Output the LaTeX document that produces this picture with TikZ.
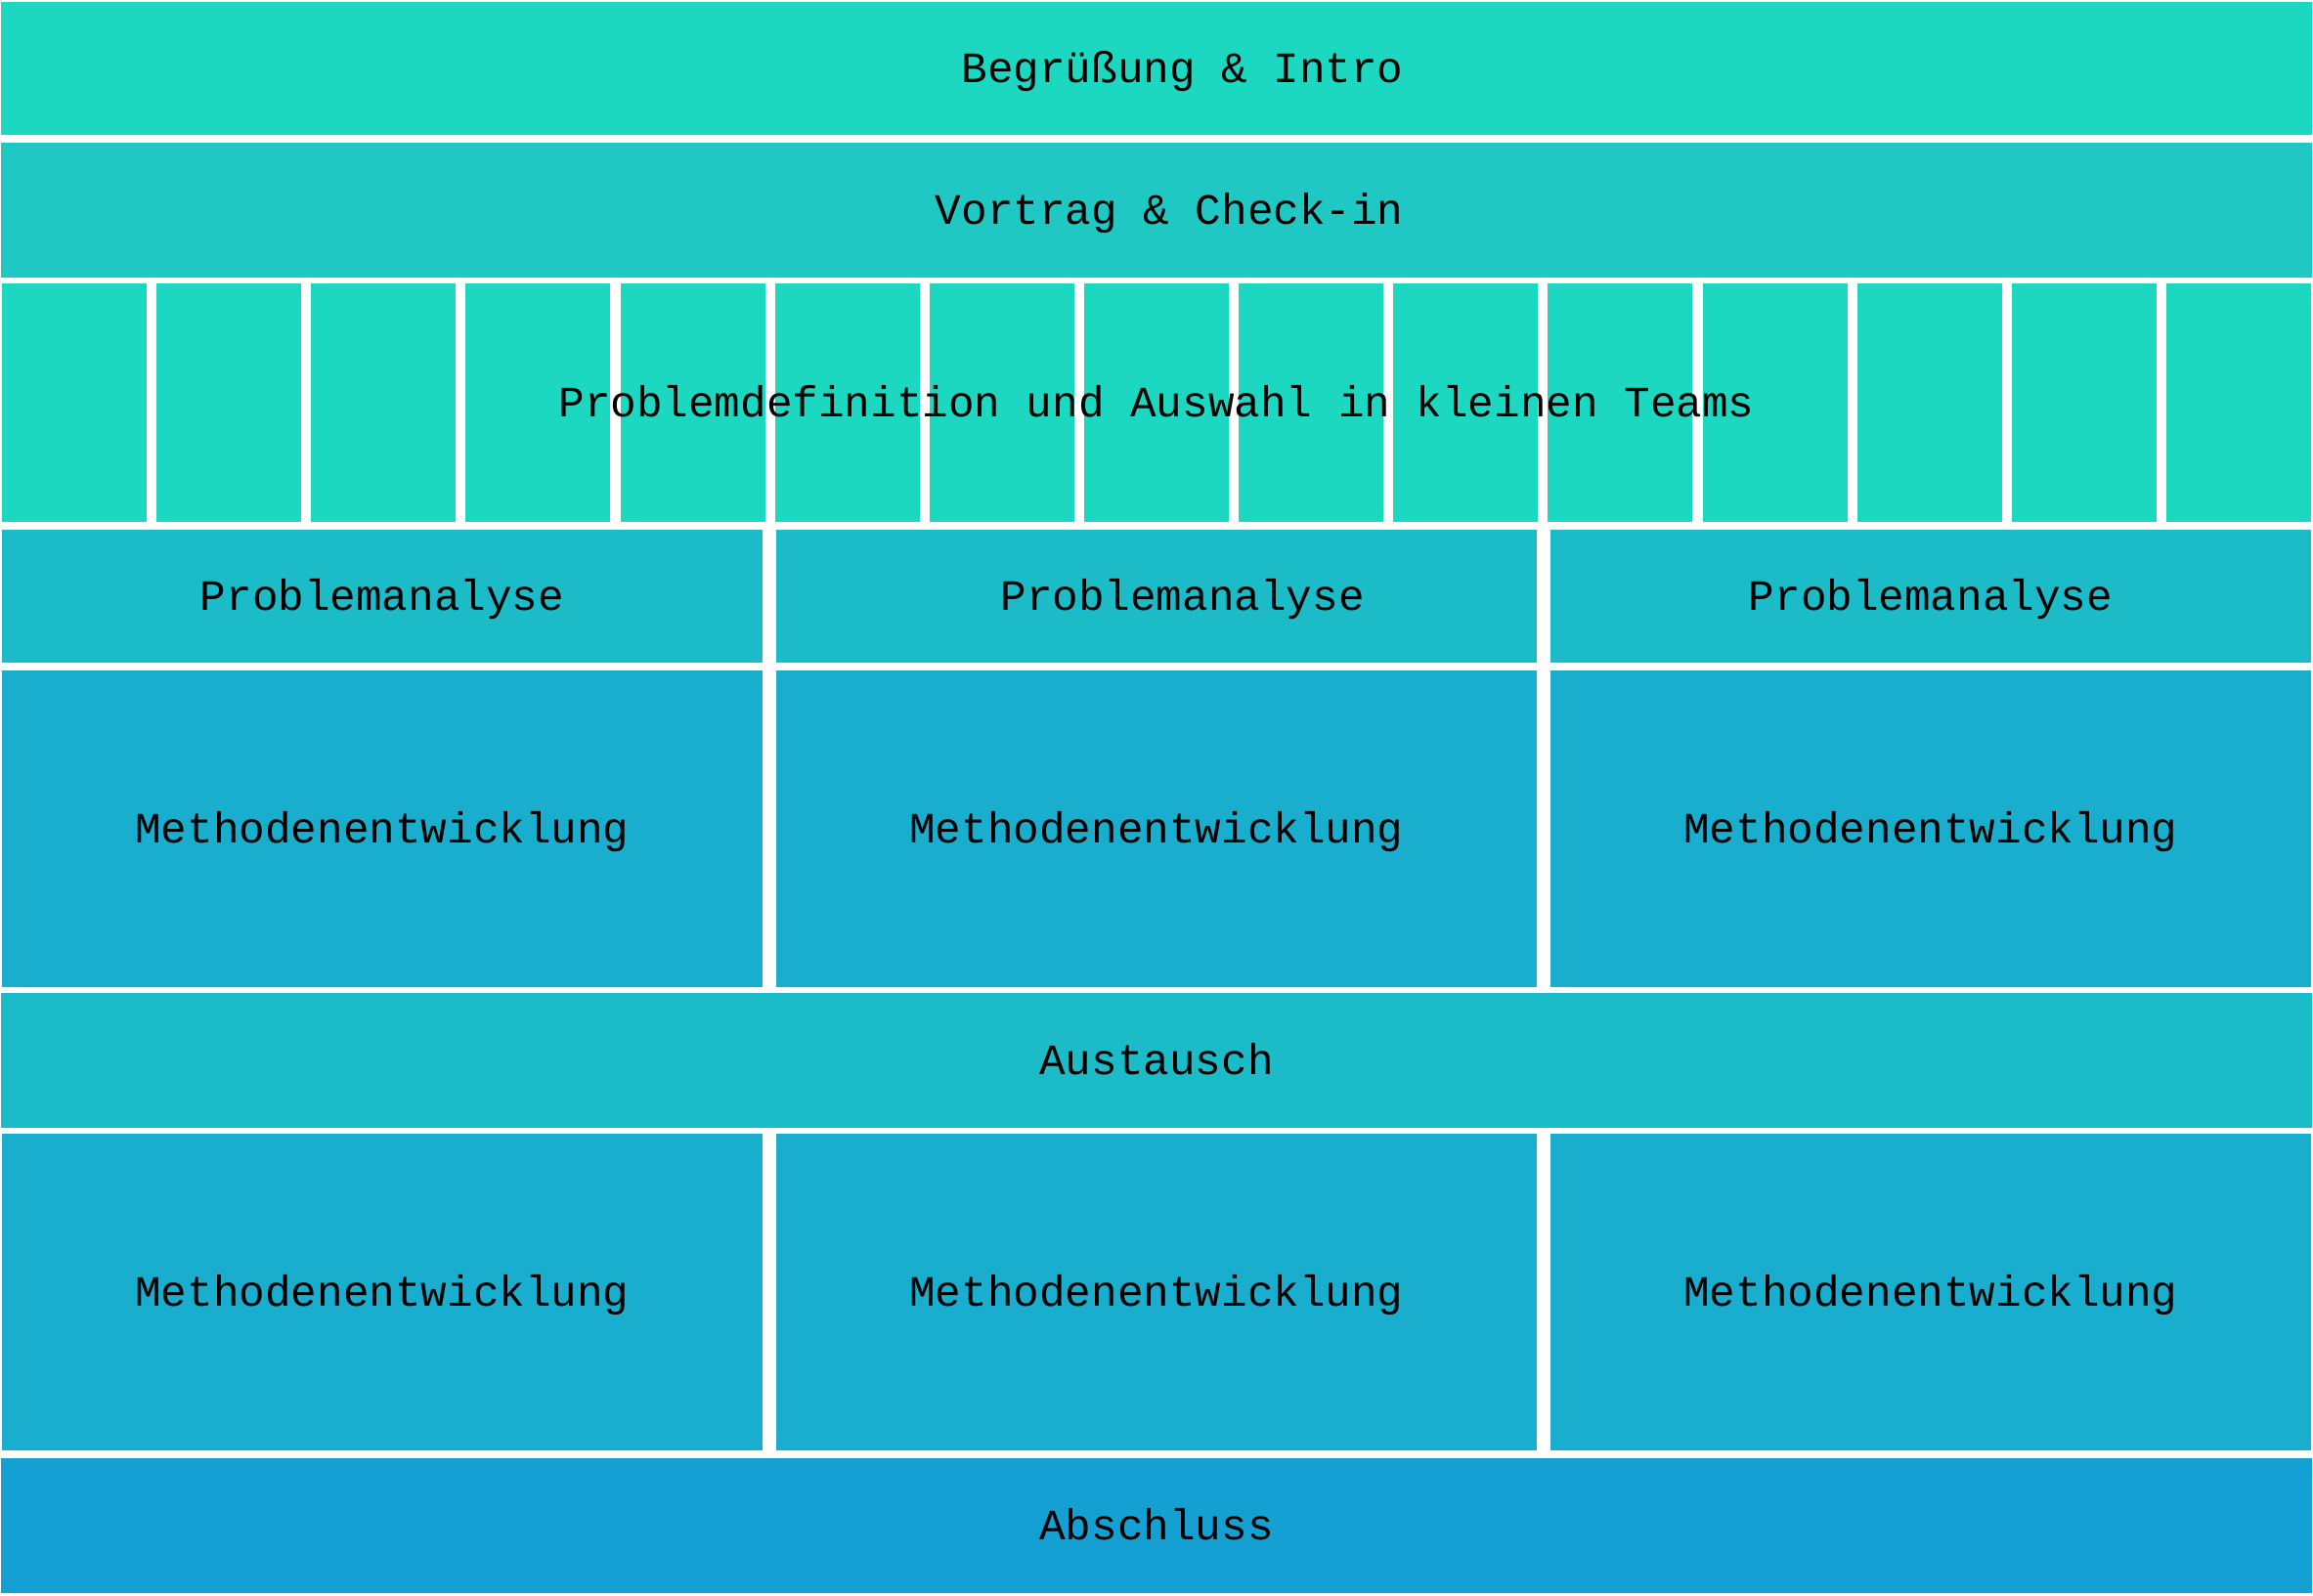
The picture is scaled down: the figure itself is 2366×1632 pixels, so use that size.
\documentclass[tikz,border=0pt]{standalone}
\usepackage{fontspec}
\setmonofont{Liberation Mono}
\usepackage{tikz}

\definecolor{tuerkis}{HTML}{1DD8C1}
\definecolor{vortragc}{HTML}{20C8C4}
\definecolor{analyse}{HTML}{1BBBC7}
\definecolor{methode}{HTML}{19AECE}
\definecolor{schluss}{HTML}{14A0D2}

\begin{document}
\begin{tikzpicture}[x=0.01cm, y=-0.01cm,
    every node/.style={inner sep=0pt, outer sep=0pt, text height=8.3pt, text depth=0pt, font=\fontsize{12.6}{15}\selectfont\ttfamily},
    voll/.style={minimum width=23.62cm},
    drittel/.style={minimum width=7.78cm},
    team/.style={fill=tuerkis, minimum width=1.48cm, minimum height=2.44cm}]
            \useasboundingbox[fill=white] (0,0) rectangle (2366,1632);
            \node[voll, fill=tuerkis, minimum height=1.36cm] (intro) at (1183,70) {\hphantom{xx}Begrüßung \& Intro};
            \node[voll, fill=vortragc, minimum height=1.38cm] (vortrag) at (1183,215) {\hphantom{x}Vortrag \& Check-in};
            \node[team] (t1) at (76,412) {};
            \node[team] (t2) at (234,412) {};
            \node[team] (t3) at (392,412) {};
            \node[team] (t4) at (550,412) {};
            \node[team] (t5) at (709,412) {};
            \node[team] (t6) at (867,412) {};
            \node[team] (t7) at (1025,412) {};
            \node[team] (t8) at (1183,412) {};
            \node[team] (t9) at (1341,412) {};
            \node[team] (t10) at (1499,412) {};
            \node[team] (t11) at (1657,412) {};
            \node[team] (t12) at (1816,412) {};
            \node[team] (t13) at (1974,412) {};
            \node[team] (t14) at (2132,412) {};
            \node[team] (t15) at (2290,412) {};
            \node (teams) at (1183,412) {Problemdefinition und Auswahl in kleinen Teams};
            \node[drittel, fill=analyse, minimum height=1.36cm] (ana1) at (391,610) {Problemanalyse};
            \node[drittel, fill=analyse, minimum height=1.36cm] (ana2) at (1183,610) {\hphantom{xx}Problemanalyse};
            \node[drittel, fill=analyse, minimum height=1.36cm] (ana3) at (1975,610) {Problemanalyse};
            \node[drittel, fill=methode, minimum height=3.24cm] (meth1) at (391,848) {Methodenentwicklung};
            \node[drittel, fill=methode, minimum height=3.24cm] (meth2) at (1183,848) {Methodenentwicklung};
            \node[drittel, fill=methode, minimum height=3.24cm] (meth3) at (1975,848) {Methodenentwicklung};
            \node[voll, fill=analyse, minimum height=1.38cm] (austausch) at (1183,1085) {Austausch};
            \node[drittel, fill=methode, minimum height=3.24cm] (meth4) at (391,1322) {Methodenentwicklung};
            \node[drittel, fill=methode, minimum height=3.24cm] (meth5) at (1183,1322) {Methodenentwicklung};
            \node[drittel, fill=methode, minimum height=3.24cm] (meth6) at (1975,1322) {Methodenentwicklung};
            \node[voll, fill=schluss, minimum height=1.38cm] (abschluss) at (1183,1561) {Abschluss};
        \end{tikzpicture}
\end{document}
